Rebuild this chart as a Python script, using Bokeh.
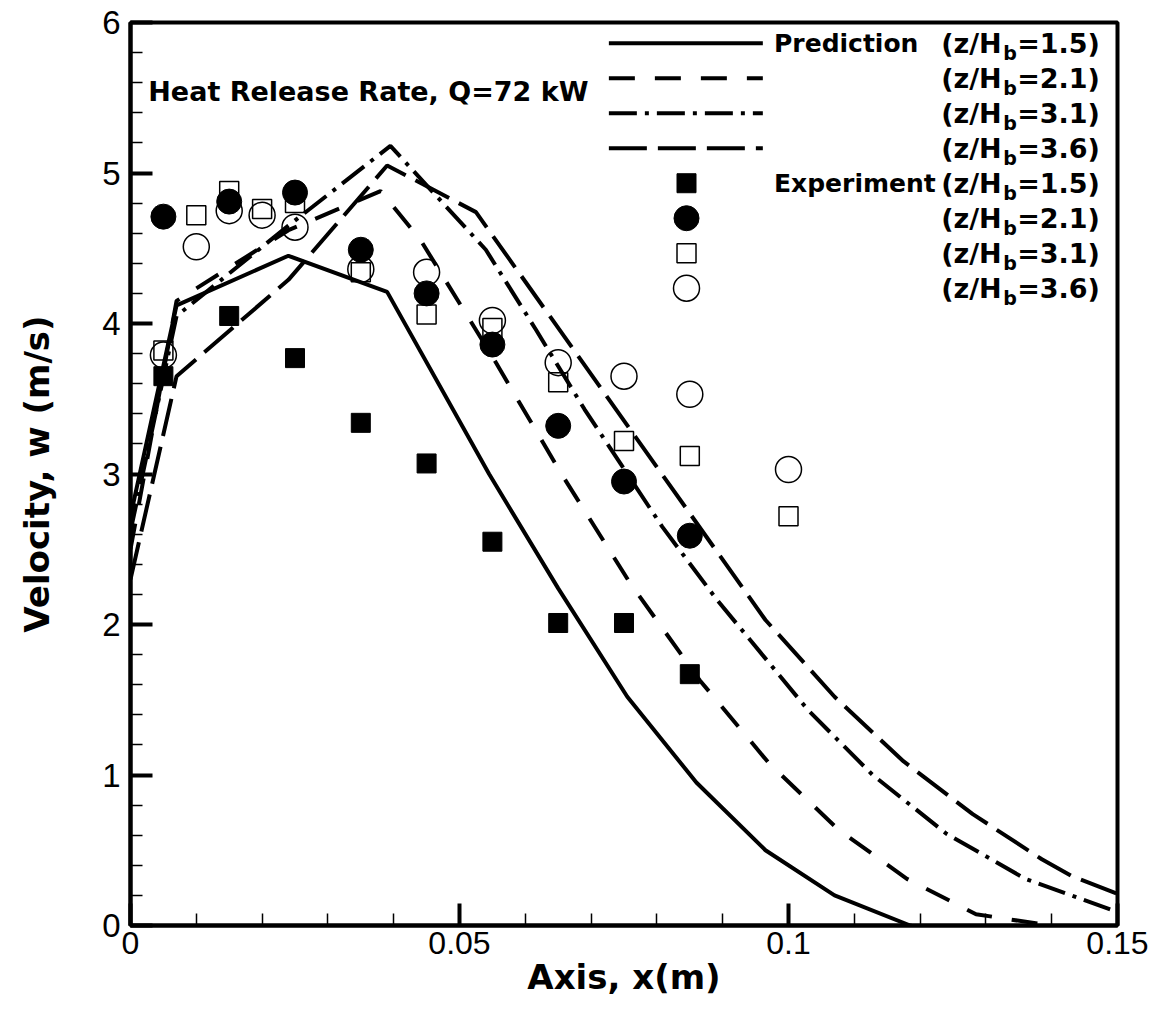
import numpy as np
from bokeh.plotting import figure
from bokeh.models import Range1d, FixedTicker
from bokeh.core.properties import value
from bokeh.embed import file_html
from bokeh.resources import INLINE

# ---------------- data ----------------
# Prediction curves (axial velocity along x)
pred15_x = [0.0, 0.007, 0.024, 0.039, 0.0545, 0.065, 0.0755, 0.086, 0.0965, 0.107, 0.1185, 0.129]
pred15_y = [2.72, 4.12, 4.45, 4.21, 3.00, 2.24, 1.52, 0.95, 0.50, 0.20, 0.0, -0.15]

pred21_x = [0.0, 0.007, 0.024, 0.038, 0.044, 0.055, 0.0655, 0.076, 0.0865, 0.097, 0.1075, 0.118, 0.1285, 0.139, 0.1495]
pred21_y = [2.50, 4.15, 4.62, 4.88, 4.56, 3.78, 3.00, 2.27, 1.63, 1.08, 0.64, 0.31, 0.075, 0.005, -0.05]

pred31_x = [0.0, 0.007, 0.024, 0.0395, 0.054, 0.0616, 0.069, 0.0808, 0.0892, 0.103, 0.1128, 0.124, 0.136, 0.15]
pred31_y = [2.62, 4.05, 4.65, 5.18, 4.49, 3.96, 3.43, 2.65, 2.16, 1.43, 1.00, 0.61, 0.31, 0.09]

pred36_x = [0.0, 0.007, 0.024, 0.039, 0.0525, 0.0965, 0.107, 0.1175, 0.128, 0.1385, 0.143, 0.15]
pred36_y = [2.30, 3.65, 4.29, 5.05, 4.74, 2.03, 1.52, 1.09, 0.74, 0.44, 0.33, 0.21]

# Experiment points
exp15_x = [0.005, 0.015, 0.025, 0.035, 0.045, 0.055, 0.065, 0.075, 0.085]
exp15_y = [3.65, 4.05, 3.77, 3.34, 3.07, 2.55, 2.01, 2.01, 1.67]

exp21_x = [0.005, 0.015, 0.025, 0.035, 0.045, 0.055, 0.065, 0.075, 0.085]
exp21_y = [4.71, 4.81, 4.87, 4.49, 4.20, 3.86, 3.32, 2.95, 2.59]

exp31_x = [0.005, 0.01, 0.015, 0.02, 0.025, 0.035, 0.045, 0.055, 0.065, 0.075, 0.085, 0.1]
exp31_y = [3.82, 4.72, 4.88, 4.76, 4.80, 4.34, 4.06, 3.97, 3.61, 3.22, 3.12, 2.72]

exp36_x = [0.005, 0.01, 0.015, 0.02, 0.025, 0.035, 0.045, 0.055, 0.065, 0.075, 0.085, 0.1]
exp36_y = [3.79, 4.51, 4.75, 4.72, 4.64, 4.36, 4.34, 4.02, 3.74, 3.65, 3.53, 3.03]

# Axis ticks
x_ticks = [0.0, 0.05, 0.1, 0.15]
x_tick_labels = ["0", "0.05", "0.1", "0.15"]
y_ticks = [0, 1, 2, 3, 4, 5, 6]
y_tick_labels = ["0", "1", "2", "3", "4", "5", "6"]

z_labels = ["1.5", "2.1", "3.1", "3.6"]

# ---------------- figure ----------------
BOLD = value("DejaVu Sans")
p = figure(width=1150, height=1008, output_backend="svg", toolbar_location=None,
           x_range=Range1d(0, 0.15), y_range=Range1d(0, 6),
           min_border_left=130, min_border_right=33, min_border_top=22, min_border_bottom=83)
p.xgrid.visible = False
p.ygrid.visible = False
p.outline_line_color = "black"
p.outline_line_width = 4
p.outline_line_alpha = 1.0
p.background_fill_color = "white"
p.border_fill_color = "white"

p.xaxis.ticker = FixedTicker(ticks=x_ticks, minor_ticks=list(np.round(np.arange(0, 0.1501, 0.01), 4)))
p.yaxis.ticker = FixedTicker(ticks=y_ticks, minor_ticks=list(np.round(np.arange(0, 6.01, 0.2), 3)))
p.xaxis.major_label_overrides = {t: s for t, s in zip(x_ticks, x_tick_labels)}
p.yaxis.major_label_overrides = {t: s for t, s in zip(y_ticks, y_tick_labels)}

for ax in (p.xaxis, p.yaxis):
    ax.axis_line_width = 4
    ax.axis_line_color = "black"
    ax.major_tick_in = 22
    ax.major_tick_out = 0
    ax.minor_tick_in = 12
    ax.minor_tick_out = 0
    ax.major_tick_line_width = 4
    ax.minor_tick_line_width = 1.5
    ax.major_tick_line_color = "black"
    ax.minor_tick_line_color = "black"
    ax.major_label_text_font = "Liberation Sans"
    ax.major_label_text_font_size = "33px"
    ax.major_label_text_color = "black"
    ax.axis_label_text_font = "DejaVu Sans"
    ax.axis_label_text_font_style = "bold"
    ax.axis_label_text_font_size = "34px"
    ax.axis_label_text_color = "black"

p.xaxis.major_label_text_font_size = "32px"
p.xaxis.axis_label = "Axis, x(m)"
p.yaxis.axis_label = "Velocity, w (m/s)"
p.xaxis.major_label_standoff = 6
p.xaxis.axis_label_standoff = 0
p.yaxis.major_label_standoff = 10
p.yaxis.axis_label_standoff = 42

# ---------------- prediction lines ----------------
styles = [None, "26 20", "28 8 4 8", "38 11"]
pred = [(pred15_x, pred15_y), (pred21_x, pred21_y), (pred31_x, pred31_y), (pred36_x, pred36_y)]
for (xs, ys), dash in zip(pred, styles):
    kw = {} if dash is None else {"line_dash": dash}
    p.line(xs, ys, line_color="black", line_width=4, **kw)

# ---------------- experiment markers ----------------
p.scatter(exp31_x, exp31_y, marker="square", size=19, fill_color=None, line_color="black", line_width=1.5)
p.scatter(exp36_x, exp36_y, marker="circle", size=26, fill_color=None, line_color="black", line_width=1.5)
p.scatter(exp15_x, exp15_y, marker="square", size=19, fill_color="black", line_color="black")
p.scatter(exp21_x, exp21_y, marker="circle", size=25, fill_color="black", line_color="black")

# ---------------- legend (drawn in data space) ----------------
leg_x0, leg_x1 = 0.0727, 0.0961
leg_mark_x = 0.0845
leg_text_x = 0.0978
leg_z_x = 0.1232
row_top, row_step = 5.862, 0.2325
rows = [row_top - i * row_step for i in range(8)]

for i, dash in enumerate(styles):
    kw = {} if dash is None else {"line_dash": dash}
    p.line([leg_x0, leg_x1], [rows[i], rows[i]], line_color="black", line_width=4, **kw)

p.scatter([leg_mark_x], [rows[4]], marker="square", size=19, fill_color="black", line_color="black")
p.scatter([leg_mark_x], [rows[5]], marker="circle", size=25, fill_color="black", line_color="black")
p.scatter([leg_mark_x], [rows[6]], marker="square", size=19, fill_color=None, line_color="black", line_width=1.5)
p.scatter([leg_mark_x], [rows[7]], marker="circle", size=26, fill_color=None, line_color="black", line_width=1.5)

txt = dict(text_font=BOLD, text_font_style="bold", text_color="black", text_baseline="middle", text_align="left")
p.text([leg_text_x, leg_text_x], [rows[0], rows[4]], text=["Prediction", "Experiment"], text_font_size="25px", **txt)

zx = [leg_z_x] * 8
zy = rows
p.text(zx, zy, text=["(z/H"] * 8, text_font_size="27px", **txt)
p.text(zx, zy, text=["b"] * 8, text_font_size="19px", x_offset=62, y_offset=10, **txt)
p.text(zx, zy, text=["=" + z + ")" for z in z_labels * 2], text_font_size="27px", x_offset=76, **txt)

# annotation
p.text([0.0027], [5.54], text=["Heat Release Rate, Q=72 kW"], text_font_size="27px", **txt)

open("out.html", "w").write(file_html(p, INLINE))
